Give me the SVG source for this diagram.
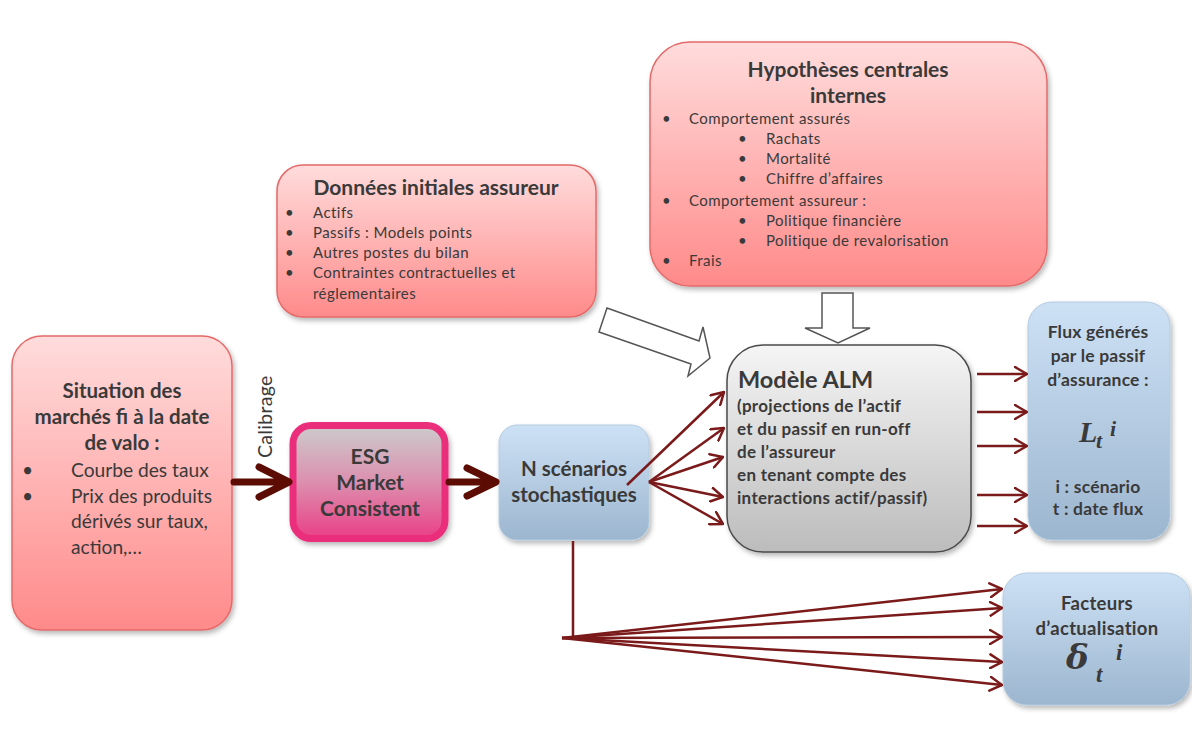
<svg xmlns="http://www.w3.org/2000/svg" width="1192" height="731" viewBox="0 0 1192 731">
<defs>
<linearGradient id="gRed" x1="0" y1="0" x2="0" y2="1"><stop offset="0" stop-color="#ffdcdc"/><stop offset="1" stop-color="#ff8a8a"/></linearGradient>
<linearGradient id="gBlue" x1="0" y1="0" x2="0" y2="1"><stop offset="0" stop-color="#cde1f5"/><stop offset="1" stop-color="#9cb6cf"/></linearGradient>
<linearGradient id="gGray" x1="0" y1="0" x2="0" y2="1"><stop offset="0" stop-color="#f5f5f5"/><stop offset="1" stop-color="#bcbcbc"/></linearGradient>
<linearGradient id="gEsg" x1="0" y1="0" x2="0" y2="1"><stop offset="0" stop-color="#cccccc"/><stop offset="0.5" stop-color="#dc8fae"/><stop offset="1" stop-color="#ea3f87"/></linearGradient>
<filter id="sh" x="-10%" y="-10%" width="125%" height="125%"><feDropShadow dx="2" dy="3" stdDeviation="2.5" flood-color="#000" flood-opacity="0.28"/></filter>
<marker id="ah" viewBox="0 0 14 16" refX="13" refY="8" markerWidth="14" markerHeight="16" markerUnits="userSpaceOnUse" orient="auto"><path d="M1,1 L13,8 L1,15" fill="none" stroke="#7b1a1a" stroke-width="2.5" stroke-linecap="round" stroke-linejoin="miter"/></marker>
</defs>
<style>
.red{fill:url(#gRed);stroke:#e46a6a;stroke-width:1.5;filter:url(#sh)}
.blue{fill:url(#gBlue);stroke:#b4cbe0;stroke-width:1;filter:url(#sh)}
.gray{fill:url(#gGray);stroke:#4a4a4a;stroke-width:1.5;filter:url(#sh)}
text{font-family:Lato,"Open Sans","Liberation Sans",sans-serif;fill:#3a3a3a}
.t{font-weight:bold}
.c{text-anchor:middle}
.m{font-family:"Liberation Serif","DejaVu Serif",serif;font-style:italic;font-weight:bold}
.thin{stroke:#7b1a1a;stroke-width:2.5;fill:none;marker-end:url(#ah)}
.thick{stroke:#5c0c02;stroke-width:7;fill:none;stroke-linecap:round;stroke-linejoin:round}
.hollow{fill:#fff;stroke:#555;stroke-width:1.5}
.sm{font-size:15px;letter-spacing:0.45px}
</style>
<rect width="1192" height="731" fill="#fff"/>

<g id="donnees">
<rect class="red" x="277" y="165" width="319" height="152" rx="26"/>
<text class="t c" x="436" y="195" font-size="21">Données initiales assureur</text>
<g class="sm">
<text x="285" y="218">•</text><text x="313" y="218">Actifs</text>
<text x="285" y="238">•</text><text x="313" y="238">Passifs : Models points</text>
<text x="285" y="258">•</text><text x="313" y="258">Autres postes du bilan</text>
<text x="285" y="278">•</text><text x="313" y="278">Contraintes contractuelles et</text>
<text x="313" y="299">réglementaires</text>
</g>
</g>

<g id="hypotheses">
<rect class="red" x="650" y="42" width="397" height="244" rx="40"/>
<text class="t c" x="848" y="77" font-size="21">Hypothèses centrales</text>
<text class="t c" x="848" y="103" font-size="21">internes</text>
<g class="sm">
<text x="662" y="124">•</text><text x="689" y="124">Comportement assurés</text>
<text x="738" y="144">•</text><text x="766" y="144">Rachats</text>
<text x="738" y="164">•</text><text x="766" y="164">Mortalité</text>
<text x="738" y="184">•</text><text x="766" y="184">Chiffre d’affaires</text>
<text x="662" y="206">•</text><text x="689" y="206">Comportement  assureur :</text>
<text x="738" y="226">•</text><text x="766" y="226">Politique financière</text>
<text x="738" y="246">•</text><text x="766" y="246">Politique de revalorisation</text>
<text x="662" y="266">•</text><text x="689" y="266">Frais</text>
</g>
</g>

<g id="situation">
<rect class="red" x="12" y="336" width="220" height="294" rx="30"/>
<g class="t c" font-size="20.5">
<text x="122" y="398">Situation des</text>
<text x="122" y="424">marchés fi à la date</text>
<text x="122" y="450">de valo :</text>
</g>
<g font-size="19.2">
<text x="22" y="477">•</text><text x="71" y="477">Courbe des taux</text>
<text x="22" y="503">•</text><text x="71" y="503">Prix des produits</text>
<text x="71" y="528">dérivés sur taux,</text>
<text x="71" y="554">action,…</text>
</g>
</g>

<g id="calibrage">
<text transform="translate(272,458) rotate(-90)" font-size="19.5" letter-spacing="0.3">Calibrage</text>
</g>

<g id="esg">
<rect x="293" y="425.5" width="152" height="113" rx="18" fill="url(#gEsg)" stroke="#ea2f7c" stroke-width="7" filter="url(#sh)"/>
<g class="t c" font-size="21">
<text x="370" y="464">ESG</text>
<text x="370" y="490">Market</text>
<text x="370" y="516">Consistent</text>
</g>
</g>

<g id="scenarios">
<rect class="blue" x="499" y="425" width="150" height="115" rx="18"/>
<text class="t c" x="574" y="476" font-size="20.5">N scénarios</text>
<text class="t c" x="574" y="502" font-size="20.5">stochastiques</text>
</g>

<g id="modele">
<rect class="gray" x="727" y="345" width="244" height="207" rx="36"/>
<text class="t" x="738" y="388" font-size="23.5">Modèle ALM</text>
<g class="t" font-size="17" letter-spacing="0.3">
<text x="737" y="412">(projections de l’actif</text>
<text x="737" y="435">et du passif en run-off</text>
<text x="737" y="458">de l’assureur</text>
<text x="737" y="481">en tenant compte des</text>
<text x="737" y="504">interactions actif/passif)</text>
</g>
</g>

<g id="flux">
<rect class="blue" x="1028" y="302" width="142" height="238" rx="24"/>
<g class="t c" font-size="17.5" letter-spacing="0.2">
<text x="1098" y="338">Flux générés</text>
<text x="1098" y="362">par le passif</text>
<text x="1098" y="386">d’assurance :</text>
<text x="1098" y="493">i : scénario</text>
<text x="1098" y="515">t : date flux</text>
</g>
<text class="m" x="1079" y="442" font-size="30">L</text>
<text class="m" x="1096" y="448" font-size="22">t</text>
<text class="m" x="1110" y="436" font-size="22">i</text>
</g>

<g id="facteurs">
<rect class="blue" x="1003" y="573" width="187" height="132" rx="24"/>
<text class="t c" x="1097" y="610" font-size="18.5" letter-spacing="0.3">Facteurs</text>
<text class="t c" x="1097" y="635" font-size="18.5" letter-spacing="0.3">d’actualisation</text>
<text class="m" x="1066" y="669" font-size="34" style="font-family:'DejaVu Serif',serif">δ</text>
<text class="m" x="1096" y="682" font-size="23">t</text>
<text class="m" x="1116" y="660" font-size="23">i</text>
</g>

<g id="connectors">
<polygon class="hollow" points="607,308 699,341 703,327 710,358 688,376 691,364 599,332"/>
<polygon class="hollow" points="822,293 853,293 853,328 870,328 838,343 805,328 822,328"/>
<path class="thick" d="M234,482 H287 M259,467 L289,482 L259,497"/>
<path class="thick" d="M449,482 H494 M467,468 L496,482 L467,496"/>
<line class="thin" x1="627" y1="485" x2="724" y2="392"/>
<line class="thin" x1="649" y1="482" x2="724" y2="428"/>
<line class="thin" x1="649" y1="482" x2="723" y2="457"/>
<line class="thin" x1="649" y1="482" x2="723" y2="497"/>
<line class="thin" x1="649" y1="482" x2="723" y2="524"/>
<line class="thin" x1="977" y1="374" x2="1027" y2="374"/>
<line class="thin" x1="977" y1="412" x2="1027" y2="412"/>
<line class="thin" x1="977" y1="446" x2="1027" y2="446"/>
<line class="thin" x1="977" y1="495" x2="1027" y2="495"/>
<line class="thin" x1="977" y1="526" x2="1027" y2="526"/>
<path d="M573,541 V638" stroke="#7b1a1a" stroke-width="2.5" fill="none"/>
<line class="thin" x1="562" y1="638" x2="1002" y2="589"/>
<line class="thin" x1="562" y1="638" x2="1002" y2="608"/>
<line class="thin" x1="562" y1="638" x2="1002" y2="637"/>
<line class="thin" x1="562" y1="638" x2="1002" y2="662"/>
<line class="thin" x1="562" y1="638" x2="1002" y2="685"/>
</g>
</svg>
